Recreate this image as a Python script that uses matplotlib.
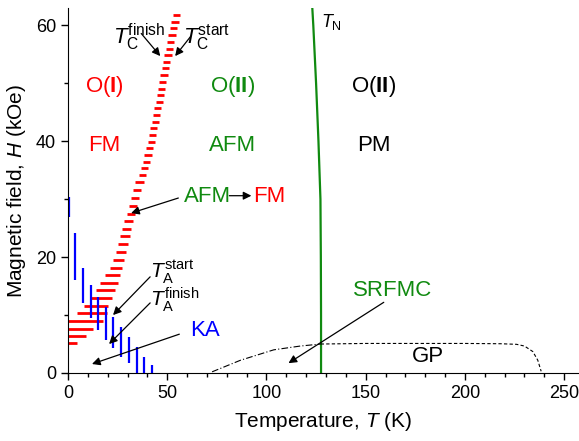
import numpy as np
import matplotlib
matplotlib.use('Agg')
import matplotlib.pyplot as plt
from matplotlib.ticker import MultipleLocator

plt.rcParams['font.family'] = 'Liberation Sans'
plt.rcParams['mathtext.fontset'] = 'custom'
plt.rcParams['mathtext.rm'] = 'Liberation Sans'
plt.rcParams['mathtext.it'] = 'Liberation Sans:italic'
plt.rcParams['mathtext.bf'] = 'Liberation Sans:bold'

# red stripes: field H (kOe), T_C finish (left end) and T_C start (right end), K
red_H = [5.1, 6.4, 7.6, 9.0, 10.3, 11.6, 13.0, 14.3, 15.6, 16.9, 18.2, 19.5,
         20.9, 22.2, 23.6, 24.9, 26.2, 27.5, 28.9, 30.2, 31.6, 32.9, 34.1,
         35.3, 36.5, 37.6, 38.8, 39.9, 41.1, 42.2, 43.4, 44.5, 45.7, 46.8,
         48.0, 49.1, 50.3, 51.4, 52.6, 53.7, 54.9, 56.0, 57.2, 58.3, 59.5,
         60.6, 61.8]
red_Tstart = [4.4, 9.1, 12.8, 17.8, 19.5, 20.4, 22.1, 23.7, 25.0, 26.3, 27.4, 28.3,
              29.1, 30.1, 31.0, 31.8, 33.0, 33.8, 34.8, 35.8, 37.0, 38.2, 39.4,
              40.2, 41.2, 42.1, 43.0, 43.8, 44.5, 45.1, 45.8, 46.4, 47.1, 47.7,
              48.3, 48.9, 49.6, 50.2, 50.9, 51.5, 52.2, 52.8, 53.5, 54.2, 54.9,
              55.7, 56.5]
red_Tfinish = [0, 0, 0, 0, 4.4, 8.1, 11.1, 14.1, 16.2, 18.7, 21.2, 22.9,
               24.2, 25.4, 26.3, 27.4, 28.4, 29.6, 30.5, 31.6, 32.8, 34.0, 35.6,
               36.6, 37.6, 38.5, 39.4, 40.2, 40.9, 41.5, 42.2, 42.8, 43.5, 44.1,
               44.7, 45.3, 46.0, 46.6, 47.3, 47.9, 48.6, 49.2, 49.9, 50.6, 51.3,
               52.1, 52.9]

# blue stripes (KA): temperature and field range
blue_T = [0.5, 3.5, 7.4, 11.4, 15.3, 19.2, 22.9, 26.8, 30.8, 34.7, 38.5, 42.4]
blue_Hlow = [26.9, 16.0, 12.0, 9.5, 7.4, 5.7, 4.3, 2.8, 1.7, 0.0, 0.0, 0.0]
blue_Hhigh = [30.3, 24.1, 18.1, 15.2, 13.1, 11.4, 9.7, 7.9, 6.2, 4.5, 2.8, 1.4]

# Neel line
tn_H = [0, 10, 20, 30, 40, 50, 60, 63]
tn_T = [127.5, 127.5, 127.4, 127.2, 126.2, 125.0, 123.6, 123.1]

# GP boundary
gp1_T = [72.6, 86.9, 103.7, 117.0, 127.3]
gp1_H = [0.2, 2.2, 4.0, 4.65, 5.0]
gp2_T = [127.3, 150, 200, 218, 226, 230, 234.2, 236.7, 238.4]
gp2_H = [5.0, 5.1, 5.1, 5.05, 4.95, 4.65, 3.7, 2.2, 0.3]

fig = plt.figure(figsize=(5.79, 4.41), dpi=100)
ax = fig.add_axes([0.1174, 0.1542, 0.881, 0.8277])

ax.hlines(red_H, red_Tfinish, red_Tstart, color='#ff0000', lw=2.0)
ax.vlines(blue_T, blue_Hlow, blue_Hhigh, color='#0000ff', lw=1.6)
ax.plot(tn_T, tn_H, color='#108a10', lw=1.6)
ax.plot(gp1_T, gp1_H, color='black', lw=0.8, ls=(0, (6, 2, 1, 2)))
ax.plot(gp2_T, gp2_H, color='black', lw=0.8, ls=(0, (3, 2)))

ax.set_xlim(0, 257)
ax.set_ylim(0, 63)
ax.spines['top'].set_visible(False)
ax.spines['right'].set_visible(False)
ax.xaxis.set_major_locator(MultipleLocator(50))
ax.xaxis.set_minor_locator(MultipleLocator(10))
ax.yaxis.set_major_locator(MultipleLocator(20))
ax.yaxis.set_minor_locator(MultipleLocator(10))
ax.tick_params(which='major', direction='out', length=5, width=1, labelsize=13)
ax.tick_params(which='minor', direction='out', length=3, width=1)
ax.set_xlabel('Temperature, $\\it{T}$ (K)', fontsize=15, labelpad=6)
ax.set_ylabel('Magnetic field, $\\it{H}$ (kOe)', fontsize=15, labelpad=6)

red = '#ff0000'
grn = '#108a10'
blu = '#0000ff'
fs = 16
ax.text(18.2, 49.5, 'O($\\mathbf{I}$)', color=red, fontsize=fs, ha='center', va='center')
ax.text(18.2, 39.3, 'FM', color=red, fontsize=fs, ha='center', va='center')
ax.text(82.8, 49.5, 'O($\\mathbf{II}$)', color=grn, fontsize=fs, ha='center', va='center')
ax.text(82.8, 39.3, 'AFM', color=grn, fontsize=fs, ha='center', va='center')
ax.text(154, 49.5, 'O($\\mathbf{II}$)', color='black', fontsize=fs, ha='center', va='center')
ax.text(154, 39.3, 'PM', color='black', fontsize=fs, ha='center', va='center')
ax.text(70.2, 30.5, 'AFM', color=grn, fontsize=fs, ha='center', va='center')
ax.text(101.5, 30.5, 'FM', color=red, fontsize=fs, ha='center', va='center')
ax.text(69.2, 7.4, 'KA', color=blu, fontsize=fs, ha='center', va='center')
ax.text(163.6, 14.3, 'SRFMC', color=grn, fontsize=fs, ha='center', va='center')
ax.text(181.3, 2.8, 'GP', color='black', fontsize=fs, ha='center', va='center')

ax.text(22.7, 58.0, '$\\it{T}_{\\rm C}^{\\rm finish}$', fontsize=16, ha='left', va='center')
ax.text(58.1, 58.0, '$\\it{T}_{\\rm C}^{\\rm start}$', fontsize=16, ha='left', va='center')
ax.text(127.6, 60.5, '$\\it{T}_{\\rm N}$', fontsize=13, ha='left', va='center')
ax.text(41.4, 17.5, '$\\it{T}_{\\rm A}^{\\rm start}$', fontsize=15, ha='left', va='center')
ax.text(41.4, 12.6, '$\\it{T}_{\\rm A}^{\\rm finish}$', fontsize=15, ha='left', va='center')

ap = dict(arrowstyle='-|>', color='black', lw=0.9, mutation_scale=12, shrinkA=0, shrinkB=0)
arrows = [((36.9, 58.6), (46.5, 54.7)),
          ((61.6, 58.0), (54.0, 54.7)),
          ((55.6, 30.2), (31.8, 27.6)),
          ((41.4, 16.6), (22.7, 10.0)),
          ((41.4, 12.1), (20.7, 5.0)),
          ((56.1, 6.7), (12.1, 1.55)),
          ((159.1, 12.2), (111.1, 1.7)),
          ((81.3, 30.6), (92.4, 30.6))]
for start, tip in arrows:
    ax.annotate('', xy=tip, xytext=start, arrowprops=ap)

fig.savefig('out.png', dpi=100)
